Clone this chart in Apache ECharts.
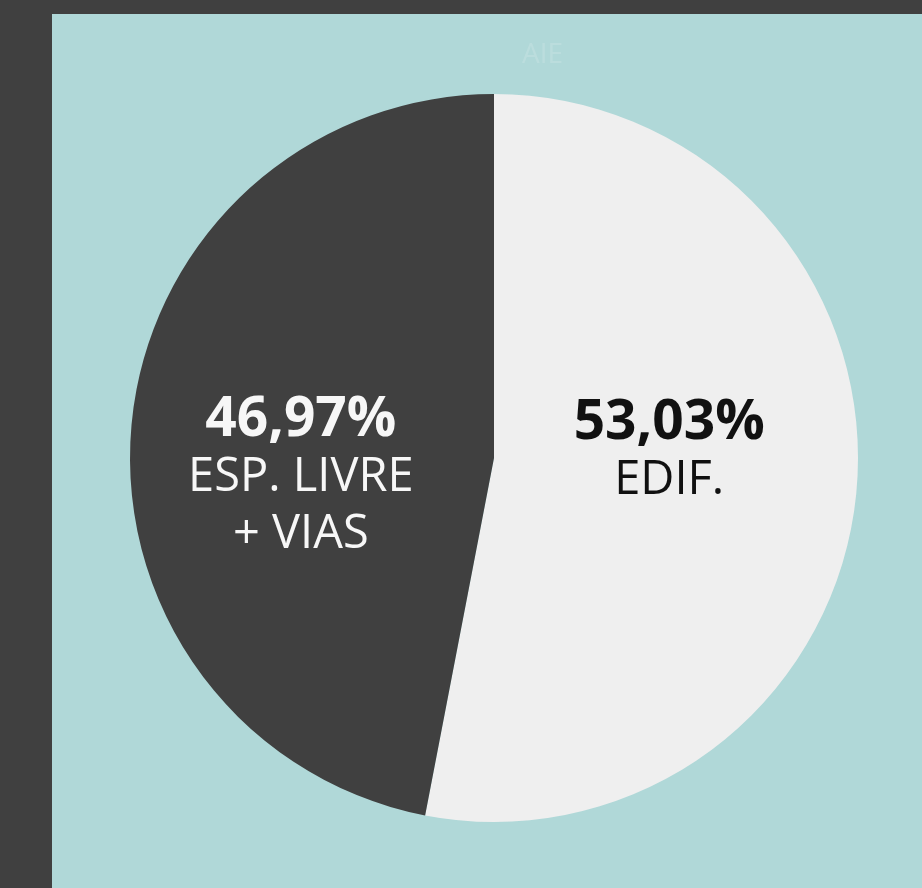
<!DOCTYPE html>
<html>
<head>
<meta charset="utf-8">
<script src="https://cdn.jsdelivr.net/npm/echarts@6/dist/echarts.min.js"></script>
<style>
  html, body { margin: 0; padding: 0; background: #404040; }
  #chart { width: 922px; height: 888px; }
</style>
</head>
<body>
<div id="chart"></div>
<script>
// dados do gráfico
var categorias = ['EDIF.', 'ESP. LIVRE\n+ VIAS'];
var valores = [53.03, 46.97];
var cores = ['#efefef', '#404040'];
var coresTexto = ['#111111', '#f7f7f7'];
var titulo = 'AIE';

var myChart = echarts.init(document.getElementById('chart'));

var dados = categorias.map(function (c, i) {
  return {
    name: c,
    value: valores[i],
    itemStyle: { color: cores[i] },
    label: {
      rich: {
        pct: { fontFamily: 'Open Sans', fontWeight: 'bold', fontSize: 55, lineHeight: 58, color: coresTexto[i] },
        nm: { fontFamily: 'Open Sans', fontSize: 47, lineHeight: 57, color: coresTexto[i] }
      }
    }
  };
});

var option = {
  backgroundColor: '#404040',
  // painel azul claro
  graphic: [{
    type: 'rect',
    left: 52, top: 14,
    shape: { width: 870, height: 874 },
    style: { fill: '#b0d8d8' },
    z: -10
  }],
  title: {
    text: titulo,
    left: 517, top: 36,
    textStyle: { color: '#bbdddd', fontSize: 28, fontWeight: 'normal', fontFamily: 'Open Sans' }
  },
  series: [{
    type: 'pie',
    center: [494, 458],
    radius: 364,
    startAngle: 90,
    clockwise: true,
    silent: true,
    avoidLabelOverlap: false,
    label: {
      show: true,
      position: 'inside',
      align: 'center',
      formatter: function (p) {
        var pct = p.value.toFixed(2).replace('.', ',') + '%';
        return '{pct|' + pct + '}\n{nm|' + p.name + '}';
      }
    },
    labelLine: { show: false },
    labelLayout: function (params) {
      // pequenos ajustes de posição dos rótulos
      if (params.dataIndex === 0) return { dx: -9, dy: -24 };
      return { dx: -9, dy: 37 };
    },
    data: dados
  }]
};

myChart.setOption(option);
</script>
</body>
</html>
